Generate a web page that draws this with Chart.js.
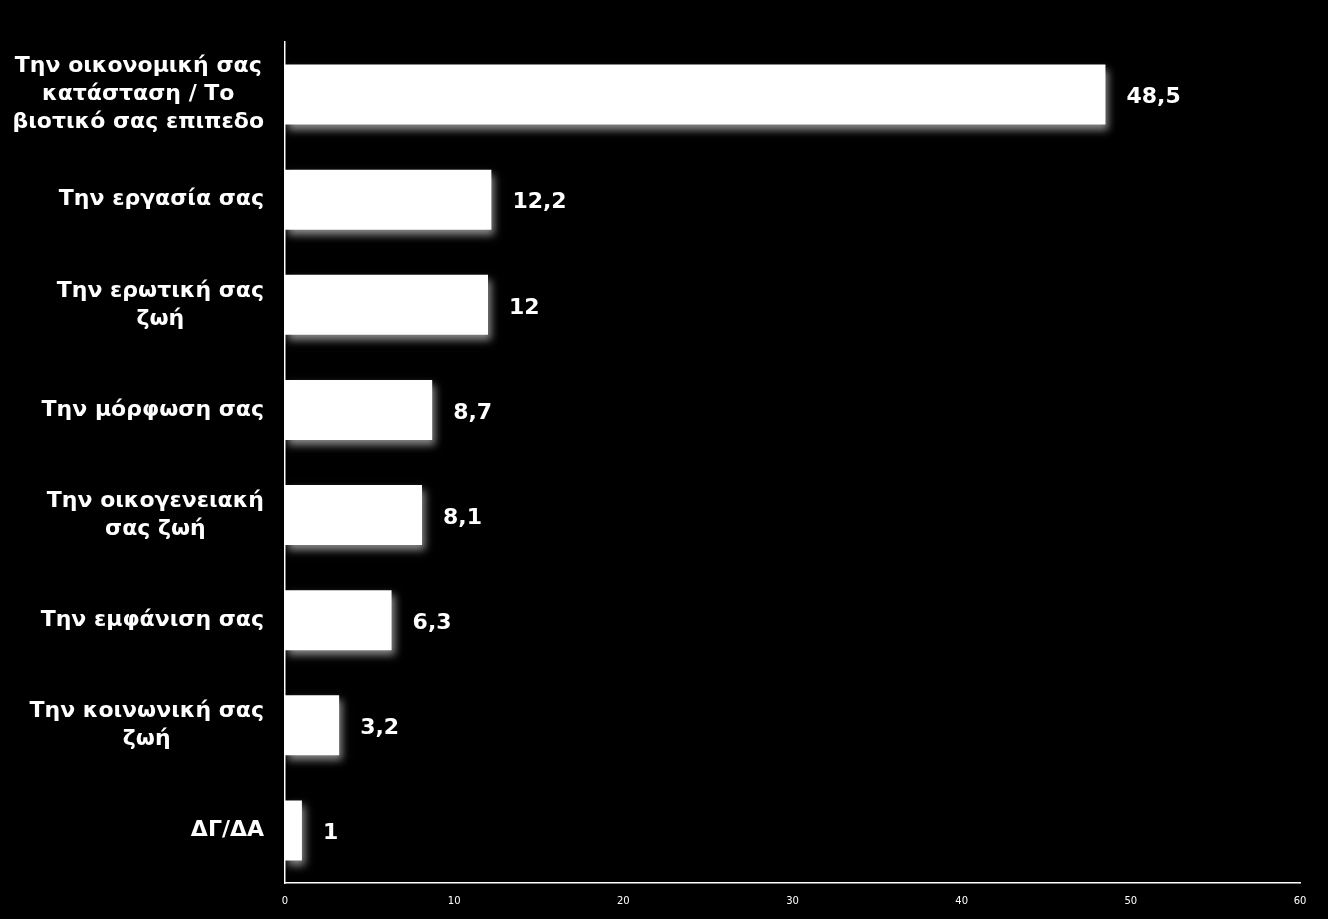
<!DOCTYPE html>
<html>
<head>
<meta charset="utf-8">
<script src="https://cdn.jsdelivr.net/npm/chart.js@4.4.1/dist/chart.umd.min.js"></script>
<style>
  html, body { margin: 0; padding: 0; background: #000; }
  #wrap { width: 1328px; height: 919px; }
</style>
</head>
<body>
<div id="wrap"><canvas id="barChart" width="1328" height="919"></canvas></div>
<script>
// categories (multi-line labels as arrays)
const categories = [
  ['Την οικονομική σας', 'κατάσταση / Το', 'βιοτικό σας επιπεδο'],
  ['Την εργασία σας'],
  ['Την ερωτική σας', 'ζωή'],
  ['Την μόρφωση σας'],
  ['Την οικογενειακή', 'σας ζωή'],
  ['Την εμφάνιση σας'],
  ['Την κοινωνική σας', 'ζωή'],
  ['ΔΓ/ΔΑ']
]
const values = [48.5, 12.2, 12, 8.7, 8.1, 6.3, 3.2, 1]
const valueLabels = ['48,5', '12,2', '12', '8,7', '8,1', '6,3', '3,2', '1']
const xTicks = [0, 10, 20, 30, 40, 50, 60]

const fontFam = '"DejaVu Sans", Verdana, sans-serif'

/* glow under the bars */
const barShadow = {
  id: 'barShadow',
  beforeDatasetsDraw(chart) {
    const ctx = chart.ctx
    ctx.save()
    ctx.shadowColor = 'rgba(255,255,255,0.55)'
    ctx.shadowBlur = 8
    ctx.shadowOffsetX = 3
    ctx.shadowOffsetY = 5
  },
  afterDatasetsDraw(chart) {
    chart.ctx.restore()
  }
}

/* category names + value labels */
const textPlugin = {
  id: 'textPlugin',
  afterDraw(chart) {
    const ctx = chart.ctx
    const y = chart.scales.y
    const meta = chart.getDatasetMeta(0)
    ctx.save()
    ctx.fillStyle = '#fff'
    ctx.textBaseline = 'middle'
    ctx.font = 'bold 22px ' + fontFam
    const lineH = 28
    categories.forEach((lines, i) => {
      const cy = y.getPixelForValue(i)
      let maxW = 0
      lines.forEach(l => { maxW = Math.max(maxW, ctx.measureText(l).width) })
      const cx = 264 - maxW / 2
      ctx.textAlign = 'center'
      lines.forEach((l, k) => {
        ctx.fillText(l, cx, cy + (k - (lines.length - 1) / 2) * lineH)
      })
    })
    ctx.font = 'bold 22px ' + fontFam
    ctx.textAlign = 'left'
    meta.data.forEach((bar, i) => {
      ctx.fillText(valueLabels[i], bar.x + 21, bar.y + 3)
    })
    ctx.restore()
  }
}

new Chart(document.getElementById('barChart'), {
  type: 'bar',
  data: {
    labels: categories.map(c => c.join(' ')),
    datasets: [{
      data: values,
      backgroundColor: '#ffffff',
      borderWidth: 0,
      barPercentage: 0.57,
      categoryPercentage: 1
    }]
  },
  options: {
    indexAxis: 'y',
    responsive: false,
    animation: false,
    layout: { padding: { top: 42, right: 28, left: 0, bottom: 0 } },
    plugins: {
      legend: { display: false },
      tooltip: { enabled: false }
    },
    scales: {
      x: {
        min: 0,
        max: 60,
        afterBuildTicks: s => { s.ticks = xTicks.map(v => ({ value: v })) },
        afterFit: s => { s.height = 36 },
        grid: { display: false },
        border: { color: '#fff', width: 1.5 },
        ticks: { color: '#fff', padding: 4, font: { size: 10, family: fontFam } }
      },
      y: {
        afterFit: s => { s.width = 285 },
        grid: { display: false },
        border: { color: '#fff', width: 1.5 },
        ticks: { display: false }
      }
    }
  },
  plugins: [barShadow, textPlugin]
})
</script>
</body>
</html>
